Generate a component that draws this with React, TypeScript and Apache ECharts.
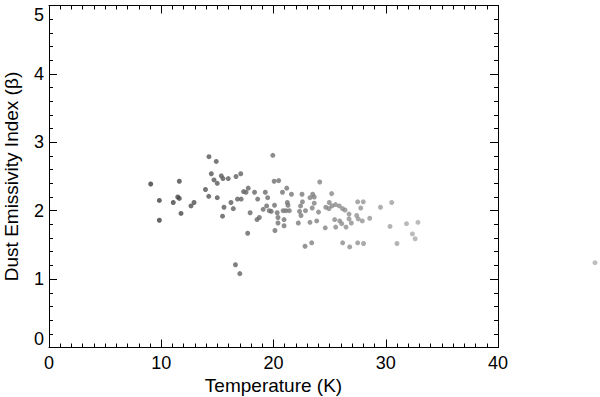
import React, { useEffect, useRef } from "react";
import * as echarts from "echarts";

// Temperature (K) of each source
const temperature: number[] = [
  9.06, 9.83, 9.83, 11.61, 11.07, 11.47, 11.61, 11.76, 12.65, 12.92,
  13.94, 14.25, 14.9, 14.46, 14.7, 14.99, 14.23, 14.99, 15.35, 15.5,
  15.97, 16.66, 17.08, 15.59, 15.46, 16.21, 16.42, 16.79, 17.12, 17.33,
  17.55, 17.75, 18.31, 18.59, 17.92, 18.53, 18.74, 17.7, 16.61, 17.0,
  19.94, 20.06, 20.46, 19.27, 19.48, 20.8, 21.18, 21.6, 22.54, 23.25,
  23.49, 23.63, 24.12, 25.18, 19.08, 19.39, 19.62, 19.8, 20.09, 20.33,
  20.86, 21.23, 21.29, 21.11, 21.41, 22.58, 22.41, 22.85, 22.32, 23.45,
  23.63, 24.01, 24.66, 24.97, 25.21, 25.52, 25.86, 26.15, 26.37, 24.94,
  20.4, 20.94, 20.4, 20.94, 20.13, 22.21, 23.25, 23.85, 22.45, 25.45,
  25.9, 26.08, 24.61, 25.54, 26.46, 26.73, 22.81, 23.4, 26.16, 26.79,
  27.5, 28.02, 31.0, 27.5, 28.0, 27.77, 29.53, 30.53, 27.41, 26.73,
  27.55, 27.91, 28.57, 26.93, 30.38, 31.85, 32.87, 32.37, 32.62, 48.64,
];

// Dust emissivity index (beta) of each source
const beta: number[] = [
  2.39, 2.15, 1.86, 2.43, 2.12, 2.2, 2.18, 1.96, 2.07, 2.12,
  2.31, 2.79, 2.72, 2.54, 2.45, 2.4, 2.21, 2.19, 2.51, 2.47,
  2.47, 2.5, 2.54, 2.05, 1.92, 2.12, 2.03, 2.17, 2.17, 2.28,
  2.27, 2.33, 2.27, 2.17, 1.97, 1.87, 1.9, 1.67, 1.21, 1.08,
  2.81, 2.43, 2.44, 2.27, 2.19, 2.27, 2.33, 2.24, 2.24, 2.19,
  2.24, 2.2, 2.42, 2.25, 2.02, 2.07, 2.0, 1.99, 2.08, 1.97,
  2.0, 2.12, 2.08, 2.0, 2.0, 2.13, 2.07, 2.0, 1.99, 2.04,
  2.11, 1.98, 2.05, 2.12, 2.07, 2.09, 2.07, 2.03, 2.01, 2.03,
  1.9, 1.87, 1.82, 1.78, 1.71, 1.82, 1.83, 1.85, 1.93, 1.87,
  1.85, 1.81, 1.75, 1.76, 1.76, 1.95, 1.48, 1.53, 1.53, 1.47,
  1.53, 1.52, 1.52, 2.13, 2.13, 2.04, 2.05, 2.12, 1.93, 1.88,
  1.88, 1.85, 1.89, 1.82, 1.77, 1.81, 1.83, 1.66, 1.59, 1.24,
];

const xTicks: number[] = [0, 10, 20, 30, 40];
const yTicks: number[] = [0, 1, 2, 3, 4, 5];

const FONT = "'Liberation Sans', Arial, Helvetica, sans-serif";

function grayFor(t: number): string {
  const lo = 9, hi = 33;
  const f = Math.max(0, Math.min(1, (t - lo) / (hi - lo)));
  const v = Math.round(0x3c + f * (0xac - 0x3c));
  const h = v.toString(16).padStart(2, "0");
  return "#" + h + h + h;
}

function makeAxis(extra: any, minorSplit: number) {
  return {
    type: "value",
    gridIndex: 0,
    show: true,
    axisLine: { show: true, onZero: false, lineStyle: { color: "#000", width: 1 } },
    axisTick: { show: true, inside: true, length: 8, lineStyle: { color: "#000", width: 1 } },
    minorTick: { show: true, splitNumber: minorSplit, length: 4, lineStyle: { color: "#000", width: 1 } },
    splitLine: { show: false },
    minorSplitLine: { show: false },
    ...extra,
  };
}

export default function App() {
  const ref = useRef<HTMLDivElement>(null);
  useEffect(() => {
    if (!ref.current) return;
    const chart = echarts.init(ref.current, undefined, { renderer: "svg" });
    const data = temperature.map((t, i) => [t, beta[i]]);
    chart.setOption({
      animation: false,
      backgroundColor: "#fff",
      grid: {
        left: 49,
        right: 102,
        top: 5.5,
        bottom: 49.5,
        containLabel: false,
        outerBoundsMode: "none",
      },
      xAxis: [
        makeAxis(
          {
            position: "bottom",
            min: xTicks[0],
            max: xTicks[xTicks.length - 1],
            interval: 10,
            axisLabel: { color: "#000", fontSize: 18, fontFamily: FONT, margin: 6 },
            name: "Temperature (K)",
            nameLocation: "middle",
            nameGap: 28,
            nameTextStyle: { color: "#000", fontSize: 19, fontFamily: FONT },
          },
          10
        ),
        makeAxis(
          {
            position: "top",
            min: xTicks[0],
            max: xTicks[xTicks.length - 1],
            interval: 10,
            axisLabel: { show: false },
          },
          10
        ),
      ],
      yAxis: [
        makeAxis(
          {
            position: "left",
            min: yTicks[0],
            max: yTicks[yTicks.length - 1],
            interval: 1,
            axisLabel: {
              color: "#000",
              fontSize: 18,
              fontFamily: FONT,
              margin: 5,
              verticalAlignMinLabel: "bottom",
              verticalAlignMaxLabel: "top",
            },
            name: "Dust Emissivity Index (\u03b2)",
            nameLocation: "middle",
            nameGap: 28,
            nameRotate: 90,
            nameTextStyle: { color: "#000", fontSize: 19, fontFamily: FONT },
          },
          5
        ),
        makeAxis(
          {
            position: "right",
            min: yTicks[0],
            max: yTicks[yTicks.length - 1],
            interval: 1,
            axisLabel: { show: false },
          },
          5
        ),
      ],
      series: [
        {
          type: "scatter",
          xAxisIndex: 0,
          yAxisIndex: 0,
          data,
          clip: false,
          symbol: "circle",
          symbolSize: 5,
          itemStyle: {
            color: (p: any) => grayFor(p.value[0]),
          },
        },
        {
          type: "scatter",
          xAxisIndex: 1,
          yAxisIndex: 1,
          data: [],
          silent: true,
        },
      ],
    });
    return () => chart.dispose();
  }, []);
  return (
    <div
      ref={ref}
      style={{ position: "fixed", left: 0, top: 0, width: 600, height: 397, background: "#fff" }}
    />
  );
}
